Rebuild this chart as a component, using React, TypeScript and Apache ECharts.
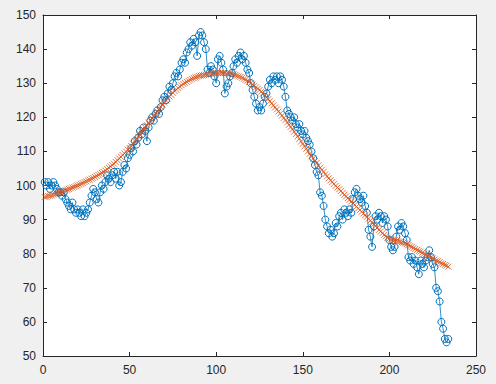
import React, { useEffect, useRef } from "react";
import * as echarts from "echarts";

// Measured series (index 1..234)
const measured: number[] = [
  101, 100, 101, 99, 100, 101, 100, 99, 98, 98,
  97, 98, 96, 95, 94, 93, 95, 93, 92, 93,
  92, 91, 93, 91, 92, 93, 95, 97, 99, 98,
  96, 95, 98, 100, 99, 101, 103, 102, 101, 103,
  104, 102, 104, 100, 101, 104, 106, 105, 108, 109,
  111, 110, 113, 112, 114, 116, 115, 117, 116, 113,
  117, 119, 120, 119, 121, 122, 121, 123, 125, 126,
  125, 127, 129, 128, 130, 132, 133, 132, 134, 136,
  137, 136, 139, 140, 142, 141, 143, 142, 138, 144,
  145, 144, 142, 140, 134, 133, 135, 134, 132, 130,
  137, 138, 136, 134, 127, 129, 130, 132, 133, 135,
  137, 136, 138, 139, 137, 138, 136, 134, 133, 130,
  128, 126, 124, 122, 123, 122, 124, 126, 127, 129,
  131, 130, 132, 131, 132, 130, 132, 131, 129, 126,
  122, 121, 120, 119, 120, 118, 117, 118, 116, 115,
  116, 114, 113, 112, 110, 108, 106, 104, 103, 98,
  97, 94, 90, 88, 86, 87, 85, 86, 89, 88,
  91, 92, 90, 93, 92, 91, 93, 92, 96, 98,
  99, 97, 96, 95, 97, 94, 92, 87, 85, 82,
  88, 91, 90, 92, 91, 89, 91, 90, 88, 84,
  82, 81, 82, 85, 88, 87, 89, 88, 86, 84,
  79, 78, 79, 77, 78, 76, 74, 78, 77, 76,
  78, 79, 81, 79, 77, 76, 70, 69, 66, 60,
  58, 55, 54, 55,
];

// Smoothed series (index 1..234)
const smoothed: number[] = [
  96.6, 96.7, 96.9, 97.0, 97.1, 97.3, 97.4, 97.6, 97.8, 98.0,
  98.2, 98.4, 98.6, 98.8, 99.0, 99.2, 99.4, 99.6, 99.8, 100.0,
  100.2, 100.5, 100.7, 101.0, 101.2, 101.5, 101.7, 102.0, 102.2, 102.5,
  102.8, 103.1, 103.4, 103.7, 104.0, 104.4, 104.8, 105.2, 105.6, 106.0,
  106.4, 106.9, 107.4, 107.9, 108.4, 108.9, 109.4, 109.9, 110.5, 111.0,
  111.6, 112.3, 113.0, 113.7, 114.3, 115.0, 115.7, 116.4, 117.0, 117.7,
  118.4, 119.0, 119.7, 120.3, 121.0, 121.7, 122.3, 123.0, 123.7, 124.3,
  124.9, 125.5, 126.1, 126.6, 127.2, 127.7, 128.1, 128.6, 129.0, 129.4,
  129.8, 130.1, 130.4, 130.7, 131.0, 131.3, 131.5, 131.7, 131.9, 132.1,
  132.2, 132.3, 132.4, 132.5, 132.6, 132.7, 132.8, 132.9, 132.9, 133.0,
  133.0, 133.0, 133.0, 133.0, 133.0, 132.9, 132.9, 132.8, 132.7, 132.6,
  132.4, 132.2, 132.0, 131.8, 131.6, 131.3, 131.0, 130.7, 130.4, 130.0,
  129.6, 129.2, 128.8, 128.4, 128.0, 127.5, 127.0, 126.4, 125.9, 125.3,
  124.7, 124.1, 123.5, 122.9, 122.3, 121.7, 121.1, 120.5, 119.8, 119.2,
  118.5, 117.8, 117.2, 116.5, 115.8, 115.1, 114.4, 113.7, 112.9, 112.2,
  111.5, 110.8, 110.0, 109.3, 108.6, 107.9, 107.2, 106.6, 105.9, 105.2,
  104.6, 104.0, 103.3, 102.7, 102.1, 101.5, 101.0, 100.4, 99.9, 99.4,
  98.9, 98.4, 97.8, 97.3, 96.8, 96.3, 95.8, 95.3, 94.8, 94.3,
  93.8, 93.3, 92.8, 92.3, 91.8, 91.3, 90.8, 90.3, 89.7, 89.2,
  88.6, 88.1, 87.6, 87.0, 86.5, 86.0, 85.5, 85.1, 84.7, 84.4,
  84.2, 84.1, 83.9, 83.8, 83.6, 83.5, 83.3, 83.2, 83.0, 82.8,
  82.5, 82.2, 82.0, 81.7, 81.4, 81.1, 80.8, 80.6, 80.3, 80.0,
  79.7, 79.4, 79.2, 78.9, 78.6, 78.3, 78.0, 77.8, 77.5, 77.2,
  77.0, 76.7, 76.5, 76.2,
];

const X_MIN = 0;
const X_MAX = 250;
const X_STEP = 50;
const Y_MIN = 50;
const Y_MAX = 150;
const Y_STEP = 10;

const AXIS_COLOR = "#262626";
const FONT = 'Arial, "Liberation Sans", Helvetica, sans-serif';

export default function App() {
  const ref = useRef<HTMLDivElement>(null);

  useEffect(() => {
    if (!ref.current) return;
    const chart = echarts.init(ref.current, undefined, { renderer: "svg" });

    const measuredData = measured.map((v, i) => [i + 1, v]);
    const smoothedData = smoothed.map((v, i) => [i + 1, v]);

    const axisCommon = {
      axisLine: { show: true, onZero: false, lineStyle: { color: AXIS_COLOR, width: 1 } },
      axisTick: { show: true, inside: true, length: 4, lineStyle: { color: AXIS_COLOR, width: 1 } },
      splitLine: { show: false },
    };

    chart.setOption({
      animation: false,
      backgroundColor: "#f0f0f0",
      grid: {
        left: 43,
        right: 20,
        top: 15,
        bottom: 28,
        show: true,
        backgroundColor: "#ffffff",
        borderWidth: 0,
      },
      xAxis: [
        {
          type: "value",
          position: "bottom",
          min: X_MIN,
          max: X_MAX,
          interval: X_STEP,
          ...axisCommon,
          axisLabel: { color: AXIS_COLOR, fontSize: 12, fontFamily: FONT, margin: 8 },
        },
        {
          type: "value",
          position: "top",
          min: X_MIN,
          max: X_MAX,
          interval: X_STEP,
          ...axisCommon,
          axisLabel: { show: false },
        },
      ],
      yAxis: [
        {
          type: "value",
          position: "left",
          min: Y_MIN,
          max: Y_MAX,
          interval: Y_STEP,
          ...axisCommon,
          axisLabel: { color: AXIS_COLOR, fontSize: 12, fontFamily: FONT, margin: 7 },
        },
        {
          type: "value",
          position: "right",
          min: Y_MIN,
          max: Y_MAX,
          interval: Y_STEP,
          ...axisCommon,
          axisLabel: { show: false },
        },
      ],
      series: [
        {
          type: "line",
          xAxisIndex: 0,
          yAxisIndex: 0,
          data: measuredData,
          showAllSymbol: true,
          symbol: "circle",
          symbolSize: 7,
          lineStyle: { color: "#0072BD", width: 0.8 },
          itemStyle: { color: "rgba(0,0,0,0)", borderColor: "#0072BD", borderWidth: 1 },
          emphasis: { disabled: true },
          z: 2,
        },
        {
          type: "scatter",
          xAxisIndex: 0,
          yAxisIndex: 0,
          data: smoothedData,
          symbol: "path://M0 0L6 6M6 0L0 6",
          symbolSize: 6,
          itemStyle: { color: "none", borderColor: "#D95319", borderWidth: 1 },
          emphasis: { disabled: true },
          z: 3,
        },
      ],
    });

    return () => chart.dispose();
  }, []);

  return (
    <div
      style={{
        position: "fixed",
        left: 0,
        top: 0,
        width: 496,
        height: 384,
        background: "#f0f0f0",
      }}
    >
      <div ref={ref} style={{ width: 496, height: 384 }} />
    </div>
  );
}
